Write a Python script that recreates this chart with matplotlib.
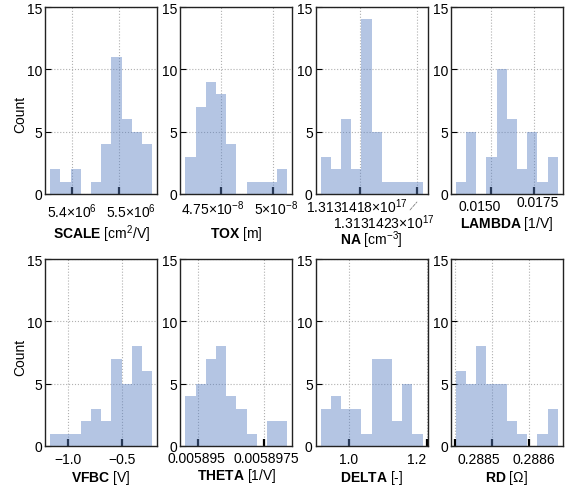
import numpy as np
import matplotlib
matplotlib.use("Agg")
import matplotlib.pyplot as plt
from matplotlib.transforms import ScaledTranslation

plt.rcParams['font.family'] = ['Liberation Sans', 'DejaVu Sans']
plt.rcParams['mathtext.fontset'] = 'custom'
plt.rcParams['mathtext.rm'] = 'Liberation Sans'
plt.rcParams['mathtext.bf'] = 'Liberation Sans:bold'
plt.rcParams['mathtext.it'] = 'Liberation Sans:italic'
plt.rcParams['mathtext.default'] = 'regular'
plt.rcParams['font.size'] = 10

# parameter names / units
names = ['SCALE', 'TOX', 'NA', 'LAMBDA', 'VFBC', 'THETA', 'DELTA', 'RD']
units = ['[cm$^{2}$/V]', '[m]', '[cm$^{-3}$]', '[1/V]', '[V]', '[1/V]', '[-]', '[Ω]']

# histogram counts (10 bins each, 36 samples)
scale_counts = [2, 1, 2, 0, 1, 4, 11, 6, 5, 4]
tox_counts = [3, 7, 9, 8, 4, 0, 1, 1, 1, 2]
na_counts = [3, 2, 6, 2, 14, 5, 1, 1, 1, 1]
lambda_counts = [1, 5, 0, 3, 10, 6, 2, 5, 1, 3]
vfbc_counts = [1, 1, 1, 2, 3, 2, 7, 5, 8, 6]
theta_counts = [4, 5, 7, 8, 4, 3, 1, 0, 2, 2]
delta_counts = [3, 4, 3, 3, 1, 7, 7, 2, 5, 1]
rd_counts = [6, 5, 8, 5, 5, 2, 1, 0, 1, 3]

# sample min / max of each parameter
scale_range = (5.3545e6, 5.570e6)
tox_range = (4.580e-8, 5.0675e-8)
na_range = (1.31314146e17, 1.31314235e17)
lambda_range = (0.01301, 0.01885)
vfbc_range = (-1.169, -0.219)
theta_range = (0.00589453, 0.00589836)
delta_range = (0.927, 1.1897)
rd_range = (0.2884035, 0.2886788)

# x ticks and their labels
scale_ticks = [5.4e6, 5.5e6]
scale_labels = ['5.4×10$^{6}$', '5.5×10$^{6}$']
tox_ticks = [4.75e-8, 5e-8]
tox_labels = ['4.75×10$^{-8}$', '5×10$^{-8}$']
na_ticks = [1.3131418e17, 1.3131423e17]
na_labels = ['1.3131418×10$^{17}$', '']
lambda_ticks = [0.015, 0.0175]
lambda_labels = ['0.0150', '0.0175']
vfbc_ticks = [-1.0, -0.5]
vfbc_labels = ['−1.0', '−0.5']
theta_ticks = [0.005895, 0.0058975]
theta_labels = ['0.005895', '0.0058975']
delta_ticks = [1.0, 1.2]
delta_labels = ['1.0', '1.2']
rd_ticks = [0.2884, 0.2885, 0.2886]
rd_labels = ['', '0.2885', '0.2886']

all_counts = [scale_counts, tox_counts, na_counts, lambda_counts,
              vfbc_counts, theta_counts, delta_counts, rd_counts]
all_ranges = [scale_range, tox_range, na_range, lambda_range,
              vfbc_range, theta_range, delta_range, rd_range]
all_ticks = [scale_ticks, tox_ticks, na_ticks, lambda_ticks,
             vfbc_ticks, theta_ticks, delta_ticks, rd_ticks]
all_labels = [scale_labels, tox_labels, na_labels, lambda_labels,
              vfbc_labels, theta_labels, delta_labels, rd_labels]

# tick labels were nudged apart in the original (pad, sideways shift in points)
tick_pads = [[5, 5], [3, 3], [2, 2], [3.6, 0.5],
             [4.3, 4.3], [3.3, 3.3], [4.3, 4.3], [4.3, 4.3, 4.3]]
tick_dx = [[0, 8.6], [-6, 1.8], [-2.2, 0], [-7.9, 2.2],
           [0, 0], [-1, 1.1], [0, -7.2], [0, -9.4, 3.6]]
xlabel_y = [-0.235, -0.231, -0.267, -0.175, -0.189, -0.176, -0.185, -0.185]
ylabel_y = [0.43, 0.48]

bar_color = '#5a80c3'

fig, axes = plt.subplots(2, 4, figsize=(5.71, 4.89), dpi=100)
fig.subplots_adjust(left=0.0788, right=0.986, bottom=0.0859, top=0.9836,
                    wspace=0.205, hspace=0.348)

for i, ax in enumerate(axes.flat):
    counts = np.array(all_counts[i])
    lo, hi = all_ranges[i]
    edges = np.linspace(lo, hi, len(counts) + 1)
    centers = (edges[:-1] + edges[1:]) / 2
    ax.hist(centers, bins=edges, weights=counts, color=bar_color, alpha=0.45,
            linewidth=0)

    ax.set_ylim(0, 15)
    ax.set_yticks([0, 5, 10, 15])
    ax.set_xticks(all_ticks[i])
    ax.set_xticklabels(all_labels[i])
    ax.set_axisbelow(True)
    ax.grid(True, ls=':', color='#b0b0b0', lw=0.8)
    ax.tick_params(axis='x', direction='in', length=5, width=1.6, color='black')
    ax.tick_params(axis='y', direction='in', length=4, width=0.8, pad=2)
    for sp in ax.spines.values():
        sp.set_linewidth(1.0)
        sp.set_color('#222222')
    for tk, p, dx in zip(ax.xaxis.get_major_ticks(), tick_pads[i], tick_dx[i]):
        tk.set_pad(p)
        tk.label1.set_transform(tk.label1.get_transform() +
                                ScaledTranslation(dx / 72, 0, fig.dpi_scale_trans))

    ax.set_xlabel(r'$\mathbf{' + names[i] + '}$ ' + units[i])
    ax.xaxis.set_label_coords(0.5, xlabel_y[i])
    ax.xaxis.label.set_va('baseline')

    if i % 4 == 0:
        ax.set_ylabel('Count')
        ax.yaxis.set_label_coords(-0.22, ylabel_y[i // 4])
        ax.yaxis.label.set_va('center')

# second NA label pushed down with a small leader line
ax_na = axes.flat[2]
ax_na.annotate('1.3131423×10$^{17}$', xy=(na_ticks[1], -0.043),
               xycoords=('data', 'axes fraction'), xytext=(-23.5, -14.4),
               textcoords='offset points', ha='center', va='center',
               annotation_clip=False,
               arrowprops=dict(arrowstyle='-', color='gray', lw=0.6, ls='--',
                               relpos=(0.73, 1.0), shrinkA=0, shrinkB=0))

fig.savefig('out.png', dpi=100)
